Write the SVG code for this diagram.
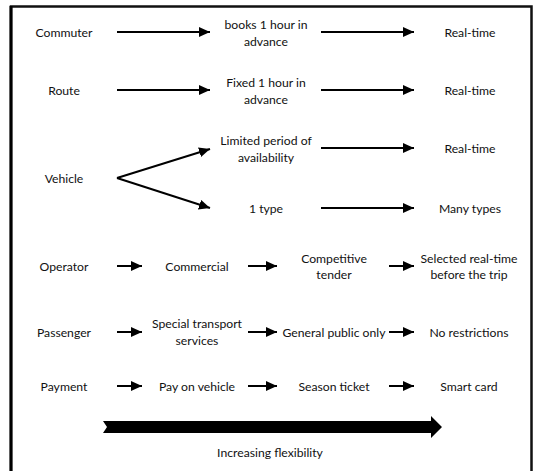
<svg xmlns="http://www.w3.org/2000/svg" width="533" height="471" viewBox="0 0 533 471">
<style>
text{font-family:Lato,"Open Sans","Liberation Sans",sans-serif;font-size:12.2px;fill:#111;text-anchor:middle;dominant-baseline:central}
.c{stroke:#000;stroke-width:2;fill:none}
</style>
<defs>
<marker id="ah" viewBox="0 0 11 10" refX="11" refY="5" markerWidth="11" markerHeight="10" markerUnits="userSpaceOnUse" orient="auto">
<path d="M0,0 L11,5 L0,10 Z" fill="#000"/>
</marker>
</defs>
<rect x="0" y="0" width="533" height="471" fill="#fff"/>
<path d="M11,490 V6.5 H531.5 V490" fill="none" stroke="#111" stroke-width="2.5"/>
<path d="M11,6 V471" stroke="#000" stroke-width="3" fill="none"/>

<g id="connectors">
<line class="c" x1="117" y1="32" x2="210" y2="32" marker-end="url(#ah)"/>
<line class="c" x1="321" y1="32" x2="414" y2="32" marker-end="url(#ah)"/>
<line class="c" x1="117" y1="90" x2="210" y2="90" marker-end="url(#ah)"/>
<line class="c" x1="321" y1="90" x2="414" y2="90" marker-end="url(#ah)"/>
<line class="c" x1="117" y1="178" x2="210" y2="149" marker-end="url(#ah)"/>
<line class="c" x1="117" y1="178" x2="210" y2="208" marker-end="url(#ah)"/>
<line class="c" x1="321" y1="148" x2="414" y2="148" marker-end="url(#ah)"/>
<line class="c" x1="321" y1="208" x2="414" y2="208" marker-end="url(#ah)"/>
<line class="c" x1="117" y1="266" x2="142" y2="266" marker-end="url(#ah)"/>
<line class="c" x1="248" y1="266" x2="277" y2="266" marker-end="url(#ah)"/>
<line class="c" x1="389" y1="266" x2="414" y2="266" marker-end="url(#ah)"/>
<line class="c" x1="117" y1="332" x2="142" y2="332" marker-end="url(#ah)"/>
<line class="c" x1="248" y1="332" x2="277" y2="332" marker-end="url(#ah)"/>
<line class="c" x1="389" y1="332" x2="414" y2="332" marker-end="url(#ah)"/>
<line class="c" x1="117" y1="386" x2="142" y2="386" marker-end="url(#ah)"/>
<line class="c" x1="248" y1="386" x2="277" y2="386" marker-end="url(#ah)"/>
<line class="c" x1="389" y1="386" x2="414" y2="386" marker-end="url(#ah)"/>
<path d="M103,421 H431 V416 L442,427 L431,438 V433 H103 L107,427 Z" fill="#000"/>
</g>

<g id="commuter"><text x="64" y="32">Commuter</text></g>
<g id="books"><text x="266" y="24">books 1 hour in</text><text x="266" y="41">advance</text></g>
<g id="rt1"><text x="470" y="32">Real-time</text></g>

<g id="route"><text x="64" y="90">Route</text></g>
<g id="fixed"><text x="266" y="82">Fixed 1 hour in</text><text x="266" y="99">advance</text></g>
<g id="rt2"><text x="470" y="90">Real-time</text></g>

<g id="vehicle"><text x="64" y="178">Vehicle</text></g>
<g id="limited"><text x="266" y="140">Limited period of</text><text x="266" y="157">availability</text></g>
<g id="rt3"><text x="470" y="148">Real-time</text></g>
<g id="type1"><text x="266" y="208">1 type</text></g>
<g id="many"><text x="470" y="208">Many types</text></g>

<g id="operator"><text x="64" y="266">Operator</text></g>
<g id="commercial"><text x="197" y="266">Commercial</text></g>
<g id="competitive"><text x="334" y="258">Competitive</text><text x="334" y="274">tender</text></g>
<g id="selected"><text x="469" y="258">Selected real-time</text><text x="469" y="274">before the trip</text></g>

<g id="passenger"><text x="64" y="332">Passenger</text></g>
<g id="special"><text x="197" y="323">Special transport</text><text x="197" y="340">services</text></g>
<g id="general"><text x="334" y="332">General public only</text></g>
<g id="norestr"><text x="469" y="332">No restrictions</text></g>

<g id="payment"><text x="64" y="386">Payment</text></g>
<g id="payveh"><text x="197" y="386">Pay on vehicle</text></g>
<g id="season"><text x="334" y="386">Season ticket</text></g>
<g id="smart"><text x="469" y="386">Smart card</text></g>

<g id="flex"><text x="270" y="452">Increasing flexibility</text></g>
</svg>
